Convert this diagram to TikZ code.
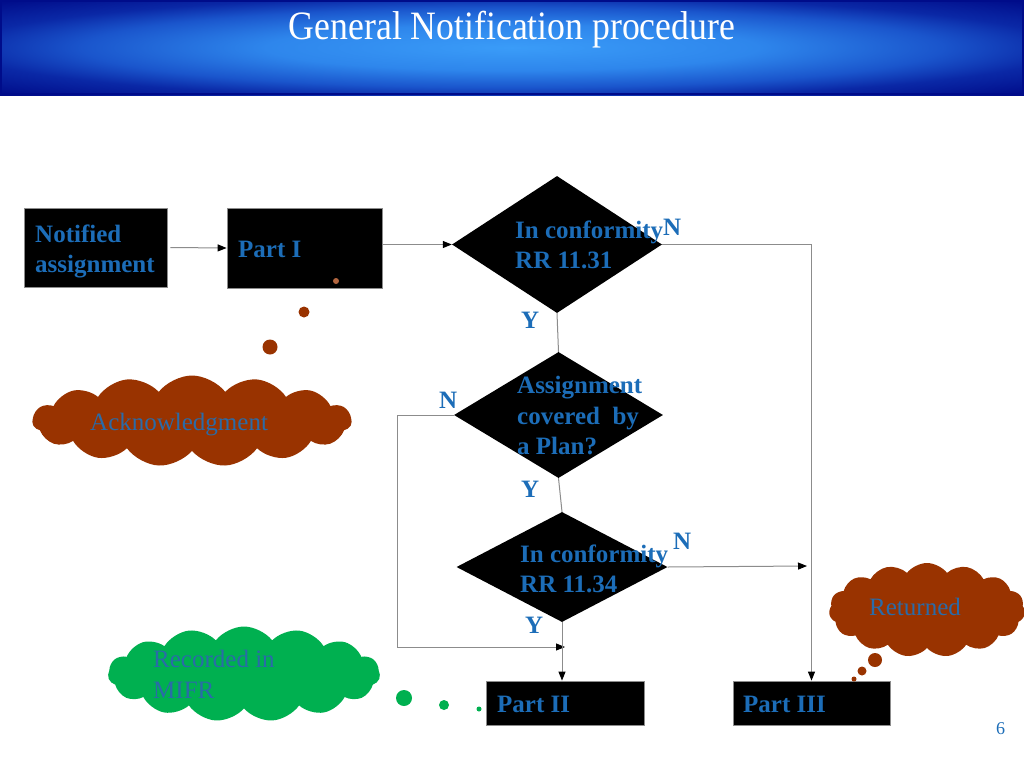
\documentclass[tikz,border=0pt]{standalone}
\usepackage{fontspec}
\setmainfont{Liberation Serif}
\usetikzlibrary{shapes.geometric,shapes.symbols,arrows.meta}
\definecolor{txtblue}{HTML}{1C6DB8}
\definecolor{cloudtxt}{HTML}{2A6BA8}
\definecolor{brownc}{HTML}{993300}
\definecolor{greenc}{HTML}{00B050}
\definecolor{navy}{HTML}{000C8A}
\definecolor{skyb}{HTML}{3A9CF8}
\definecolor{midb}{HTML}{2E86EC}
\definecolor{deepb}{HTML}{1A55CC}
\definecolor{darkb}{HTML}{0A28A6}
\definecolor{linegray}{HTML}{8C8C8C}
\pgfdeclareradialshading{titler}{\pgfpoint{0bp}{0bp}}{color(0bp)=(skyb); color(12bp)=(midb); color(21bp)=(deepb); color(27bp)=(darkb); color(35bp)=(navy); color(50bp)=(navy)}
\begin{document}
\begin{tikzpicture}[x=1pt,y=-1pt,
 box/.style={draw=linegray, line width=0.8pt, fill=black, inner sep=0pt, rectangle},
 dec/.style={diamond, fill=black, inner sep=0pt},
 lbl/.style={text=txtblue, font=\fontsize{25}{30}\selectfont\bfseries, inner sep=0pt, anchor=base west},
 ctext/.style={text=cloudtxt, font=\fontsize{25}{30}\selectfont, inner sep=0pt, anchor=base west},
 conn/.style={draw=linegray, line width=1pt},
 arr/.style={conn, -{Triangle[length=9pt,width=7pt,color=black]}},
 puff/.style={cloud, cloud puffs=15, cloud puff arc=105, cloud ignores aspect, inner sep=0pt, draw=none},
 dot/.style={circle, inner sep=0pt, draw=none}
]
\useasboundingbox[fill=white] (0,0) rectangle (1024,768);
% title bar
\shade[shading=titler] (0,0) rectangle (1024,95);
\draw[navy, line width=2pt] (1,1) rectangle (1023,94);
\node[text=white, font=\fontsize{35}{40}\selectfont, inner sep=0pt] (title) at (512,30) {\scalebox{1.02}[1.15]{General Notification procedure}};

% boxes
\node[box, minimum width=143, minimum height=79] (na) at (95.5,247.5) {};
\node[box, minimum width=155, minimum height=80] (p1) at (304.5,248) {};
\node[box, minimum width=158, minimum height=44] (p2) at (565,703) {};
\node[box, minimum width=157, minimum height=44] (p3) at (811.5,703) {};

% decisions
\node[dec, minimum width=210, minimum height=137] (d1) at (557,244.5) {};
\node[dec, minimum width=209, minimum height=126] (d2) at (558.5,415) {};
\node[dec, minimum width=211, minimum height=110] (d3) at (562,567) {};

% clouds
\node[puff, fill=brownc, minimum width=319, minimum height=91] (ack) at (192,421) {};
\node[puff, fill=brownc, minimum width=196, minimum height=94] (ret) at (927,610) {};
\node[puff, fill=greenc, minimum width=272, minimum height=95] (rec) at (244,674) {};

% thought dots
\node[dot, fill=brownc, minimum size=15] (a1) at (270,347) {};
\node[dot, fill=brownc, minimum size=11] (a2) at (304,312) {};
\node[dot, fill=brownc!75!white, minimum size=6] (a3) at (336,281) {};
\node[dot, fill=brownc, minimum size=14] (r1) at (875,660) {};
\node[dot, fill=brownc, minimum size=9] (r2) at (862,671) {};
\node[dot, fill=brownc, minimum size=5] (r3) at (854,679) {};
\node[dot, fill=greenc, minimum size=16] (g1) at (404,698) {};
\node[dot, fill=greenc, minimum size=10] (g2) at (444,705) {};
\node[dot, fill=greenc, minimum size=5] (g3) at (479,709) {};

% connectors
\coordinate (jl) at (397,647);
\coordinate (j) at (565,647);
\coordinate (e3) at (807,566);
\draw[arr] ([xshift=3pt]na.east) -- (p1.west);
\draw[arr] (p1.east |- d1.west) -- (d1.west);
\draw[arr] (d1.east) -| (p3.north);
\draw[conn] (d1.south) -- (d2.north);
\draw[arr] (d2.west) -| (jl) -- (j);
\draw[conn] (d2.south) -- (d3.north);
\draw[arr] (d3.east) -- (e3);
\draw[arr] (d3.south) -- (d3.south |- p2.north);

% texts
\node[lbl] (t1) at (35,242) {Notified};
\node[lbl] (t2) at (35,272) {assignment};
\node[lbl] (t3) at (238,257) {Part I};
\node[lbl] (t4) at (515,238) {In conformity};
\node[lbl] (t5) at (515,268) {RR 11.31};
\node[lbl] (n1) at (663,235) {N};
\node[lbl] (y1) at (521,328) {Y};
\node[lbl] (t6) at (517,393) {Assignment};
\node[lbl] (t7) at (517,424) {covered\ \ by};
\node[lbl] (t8) at (517,454) {a Plan?};
\node[lbl] (n2) at (439,408) {N};
\node[lbl] (y2) at (521,497) {Y};
\node[lbl] (t9) at (520,562) {In conformity};
\node[lbl] (t10) at (520,592) {RR 11.34};
\node[lbl] (n3) at (673,549) {N};
\node[lbl] (y3) at (525,633) {Y};
\node[lbl] (t11) at (497,712) {Part II};
\node[lbl] (t12) at (743,712) {Part III};
\node[ctext] (c1) at (90,430) {Acknowledgment};
\node[ctext] (c2) at (869,615) {Returned};
\node[ctext] (c3) at (153,667) {Recorded in};
\node[ctext] (c4) at (153,698) {MIFR};
\node[text=txtblue, font=\fontsize{18}{20}\selectfont, inner sep=0pt, anchor=base west] (pg) at (996,734) {6};
\end{tikzpicture}
\end{document}
